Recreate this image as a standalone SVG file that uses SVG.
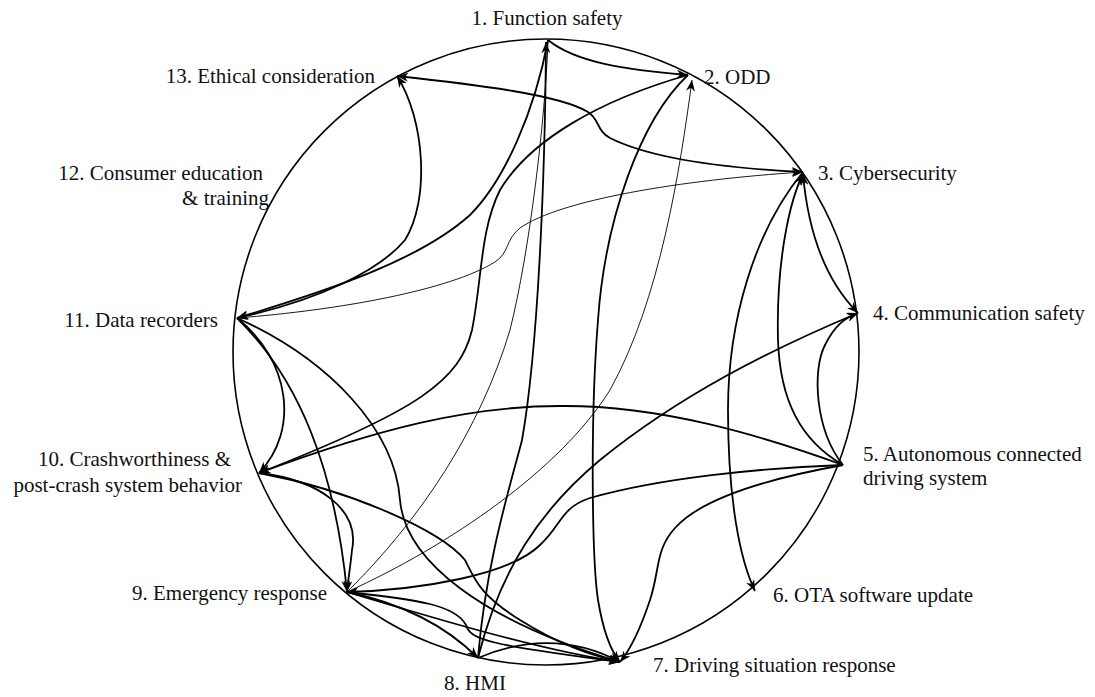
<svg xmlns="http://www.w3.org/2000/svg" width="1095" height="697" viewBox="0 0 1095 697">
<defs>
<style>
.lbl{font-family:'Liberation Serif','DejaVu Serif',serif;font-size:21px;fill:#111}
.e{fill:none;stroke:#000;stroke-width:1.8;marker-end:url(#a)}
.t{fill:none;stroke:#000;stroke-width:0.9}
.ring{fill:none;stroke:#000;stroke-width:1.6}
</style>
<marker id="a" viewBox="0 0 10 8" refX="10" refY="4" markerWidth="12" markerHeight="9" markerUnits="userSpaceOnUse" orient="auto-start-reverse">
<path d="M0,0 L10,4 L0,8 L3,4 z" fill="#000"/>
</marker>
</defs>
<rect width="1095" height="697" fill="#fff"/>
<circle class="ring" cx="546" cy="352" r="313"/>
<g id="connectors">
<path class="e" d="M548,40 C575,62 625,70 688,75"/>
<path class="e" d="M478,658 C486,560 512,480 522,440 C538,350 545,180 546,42"/>
<path class="e" d="M548,40 C535,110 505,180 470,215 C420,260 330,290 237,318"/>
<path class="t" d="M347,592 C420,520 480,430 510,330 C530,250 545,120 548,42"/>
<path class="t" marker-end="url(#a)" d="M347,592 C450,545 560,470 610,390 C660,300 680,170 692,80"/>
<path class="e" d="M688,75 C600,100 530,140 500,190 C480,230 482,280 472,330 C460,380 420,410 259,473"/>
<path class="e" d="M688,75 C640,120 605,220 598,320 C590,420 592,560 598,600 C603,630 610,650 620,662"/>
<path class="e" marker-start="url(#a)" d="M397,76 C480,85 560,95 588,112 C600,120 596,130 610,138 C650,158 720,168 803,172"/>
<path class="e" marker-start="url(#a)" d="M397,76 C425,120 430,200 405,240 C380,270 320,300 237,318"/>
<path class="t" marker-end="url(#a)" d="M237,318 C340,310 450,290 495,262 C510,252 505,240 520,228 C560,200 680,180 803,172"/>
<path class="e" marker-start="url(#a)" d="M803,174 C808,230 825,280 858,313"/>
<path class="e" d="M803,172 C755,230 728,320 728,410 C728,500 740,560 755,591"/>
<path class="e" d="M843,465 C800,440 780,400 778,340 C776,260 790,200 803,174"/>
<path class="e" d="M843,465 C815,430 812,370 825,345 C835,325 845,318 858,313"/>
<path class="e" d="M478,658 C500,570 540,510 600,460 C680,395 770,350 858,313"/>
<path class="e" d="M843,465 C760,435 660,405 560,406 C470,406 380,428 259,473"/>
<path class="e" d="M843,465 C760,468 660,478 590,498 C560,508 562,525 540,545 C510,575 420,590 347,592"/>
<path class="e" d="M843,465 C760,480 700,500 675,528 C655,550 660,570 650,600 C640,630 630,650 620,662"/>
<path class="e" d="M237,318 C290,360 300,430 259,473"/>
<path class="e" d="M237,318 C300,380 335,470 347,592"/>
<path class="e" d="M237,318 C330,360 395,430 400,500 C405,560 480,620 620,662"/>
<path class="e" d="M259,473 C320,480 360,510 352,550 C350,570 348,580 347,592"/>
<path class="e" d="M259,473 C350,490 440,530 465,560 C475,580 480,595 520,620 C560,645 590,655 620,662"/>
<path class="e" d="M347,592 C410,605 450,630 478,658"/>
<path class="e" d="M347,592 C420,600 455,605 466,625 C470,640 490,645 620,662"/>
<path class="e" d="M347,592 C440,620 540,650 620,662"/>
<path class="e" d="M478,658 C520,640 570,635 620,662"/>
</g>
<g id="n1"><text class="lbl" font-family="Liberation Serif" x="547" y="25" text-anchor="middle">1. Function safety</text></g>
<g id="n2"><text class="lbl" font-family="Liberation Serif" x="704" y="84">2. ODD</text></g>
<g id="n3"><text class="lbl" font-family="Liberation Serif" x="818" y="180">3. Cybersecurity</text></g>
<g id="n4"><text class="lbl" font-family="Liberation Serif" x="873" y="320">4. Communication safety</text></g>
<g id="n5"><text class="lbl" font-family="Liberation Serif" x="863" y="461">5. Autonomous connected</text><text class="lbl" font-family="Liberation Serif" x="863" y="485">driving system</text></g>
<g id="n6"><text class="lbl" font-family="Liberation Serif" x="773" y="602">6. OTA software update</text></g>
<g id="n7"><text class="lbl" font-family="Liberation Serif" x="653" y="672">7. Driving situation response</text></g>
<g id="n8"><text class="lbl" font-family="Liberation Serif" x="475" y="690" text-anchor="middle">8. HMI</text></g>
<g id="n9"><text class="lbl" font-family="Liberation Serif" x="327" y="600" text-anchor="end">9. Emergency response</text></g>
<g id="n10"><text class="lbl" font-family="Liberation Serif" x="231" y="466" text-anchor="end">10. Crashworthiness &amp;</text><text class="lbl" font-family="Liberation Serif" x="242" y="492" text-anchor="end">post-crash system behavior</text></g>
<g id="n11"><text class="lbl" font-family="Liberation Serif" x="218" y="327" text-anchor="end">11. Data recorders</text></g>
<g id="n12"><text class="lbl" font-family="Liberation Serif" x="263" y="180" text-anchor="end">12. Consumer education</text><text class="lbl" font-family="Liberation Serif" x="269" y="205" text-anchor="end">&amp; training</text></g>
<g id="n13"><text class="lbl" font-family="Liberation Serif" x="375" y="83" text-anchor="end">13. Ethical consideration</text></g>
</svg>
